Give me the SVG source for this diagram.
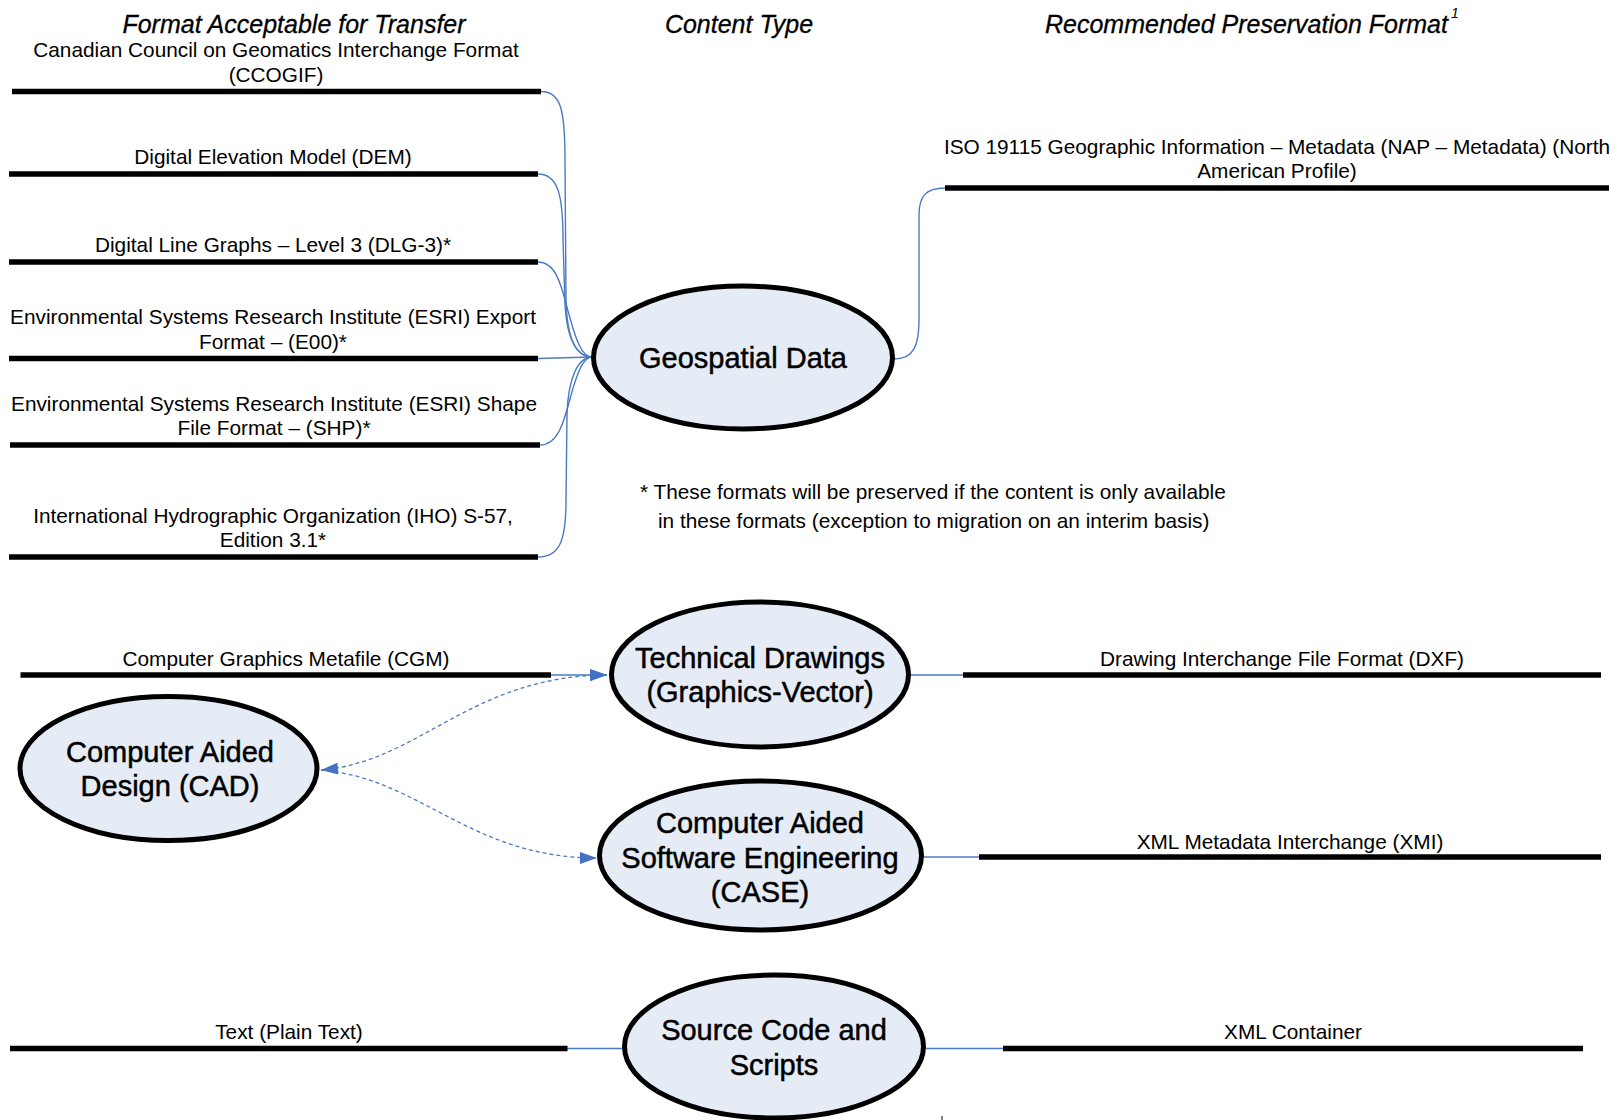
<svg xmlns="http://www.w3.org/2000/svg" width="1612" height="1120" viewBox="0 0 1612 1120">
  <style>
    text { font-family: "Liberation Sans", Arial, sans-serif; fill: #000; }
    .hdr { font-size: 25px; font-style: italic; stroke: #000; stroke-width: 0.3; }
    .sup { font-size: 14px; font-style: italic; }
    .lbl { font-size: 20.8px; text-anchor: middle; }
    .note { font-size: 20.8px; }
    .node-text { font-size: 29px; text-anchor: middle; stroke: #000; stroke-width: 0.5; }
    .bar { stroke: #000; stroke-width: 5.5; fill: none; }
    .oval { fill: #E6ECF6; stroke: #000; stroke-width: 5; }
    .link { stroke: #4A7BC2; stroke-width: 1.4; fill: none; }
    .dash { stroke: #4A7BC2; stroke-width: 1.3; fill: none; stroke-dasharray: 4 3; }
  </style>
  <defs>
    <marker id="arrow" viewBox="0 0 17 12" refX="17" refY="6" markerWidth="17" markerHeight="12" markerUnits="userSpaceOnUse" orient="auto-start-reverse">
      <path d="M0,0 L17,6 L0,12 Z" fill="#4472C4"/>
    </marker>
  </defs>

  <rect width="1612" height="1120" fill="#fff"/>

  <!-- column headings -->
  <g id="headings">
    <text class="hdr" x="294" y="33" text-anchor="middle">Format Acceptable for Transfer</text>
    <text class="hdr" x="739" y="33" text-anchor="middle">Content Type</text>
    <text class="hdr" x="1045" y="33">Recommended Preservation Format</text>
    <text class="sup" x="1451" y="18">1</text>
  </g>

  <!-- connectors -->
  <g id="connectors">
    <!-- transfer formats into Geospatial Data -->
    <path class="link" d="M541,91.5 C561,91.5 565,110 565,160 L566,300 C567,338 576,357 592,357"/>
    <path class="link" d="M538,174 C558,174 563,195 563,240 L565,305 C567,340 577,357 592,357"/>
    <path class="link" d="M538,262 C558,262 562,290 570,318 C576,340 582,357 592,357"/>
    <path class="link" d="M538,358.5 L592,357"/>
    <path class="link" d="M540,445 C562,445 566,410 574,385 C580,366 585,357 592,357"/>
    <path class="link" d="M538,557 C560,557 566,540 566,500 L567,415 C568,378 578,357 592,357"/>
    <!-- Geospatial Data to ISO 19115 -->
    <path class="link" d="M894,359 C914,359 919,345 919,320 L919,215 C919,196 926,188 945,188"/>
    <!-- Technical Drawings -->
    <path class="link" d="M551,675 L607,675" marker-end="url(#arrow)"/>
    <path class="link" d="M911,675 L963,675"/>
    <!-- CAD relations -->
    <path class="dash" d="M321,770 C420,762 470,676 607,675" marker-start="url(#arrow)" marker-end="url(#arrow)"/>
    <path class="dash" d="M321,770 C420,778 470,858 597,858" marker-end="url(#arrow)"/>
    <!-- CASE -->
    <path class="link" d="M924,857 L979,857"/>
    <!-- Source Code and Scripts -->
    <path class="link" d="M567,1048.5 L622,1048.5"/>
    <path class="link" d="M926,1048.5 L1003,1048.5"/>
  </g>

  <!-- transfer formats (left column) -->
  <g id="fmt-ccogif">
    <line class="bar" x1="12" y1="91.5" x2="541" y2="91.5"/>
    <text class="lbl" x="276" y="57">Canadian Council on Geomatics Interchange Format</text>
    <text class="lbl" x="276" y="81.5">(CCOGIF)</text>
  </g>
  <g id="fmt-dem">
    <line class="bar" x1="9" y1="174" x2="538" y2="174"/>
    <text class="lbl" x="273" y="164">Digital Elevation Model (DEM)</text>
  </g>
  <g id="fmt-dlg3">
    <line class="bar" x1="9" y1="262" x2="538" y2="262"/>
    <text class="lbl" x="273" y="252">Digital Line Graphs – Level 3 (DLG-3)*</text>
  </g>
  <g id="fmt-e00">
    <line class="bar" x1="9" y1="358.5" x2="538" y2="358.5"/>
    <text class="lbl" x="273" y="324">Environmental Systems Research Institute (ESRI) Export</text>
    <text class="lbl" x="273" y="349">Format – (E00)*</text>
  </g>
  <g id="fmt-shp">
    <line class="bar" x1="10" y1="445" x2="540" y2="445"/>
    <text class="lbl" x="274" y="410.5">Environmental Systems Research Institute (ESRI) Shape</text>
    <text class="lbl" x="274" y="435">File Format – (SHP)*</text>
  </g>
  <g id="fmt-iho">
    <line class="bar" x1="9" y1="557" x2="538" y2="557"/>
    <text class="lbl" x="273" y="522.5">International Hydrographic Organization (IHO) S-57,</text>
    <text class="lbl" x="273" y="547">Edition 3.1*</text>
  </g>

  <!-- preservation format for geospatial data -->
  <g id="fmt-iso19115">
    <line class="bar" x1="945" y1="188" x2="1609" y2="188"/>
    <text class="lbl" x="1277" y="153.5" font-size="20.4">ISO 19115 Geographic Information – Metadata (NAP – Metadata) (North</text>
    <text class="lbl" x="1277" y="178">American Profile)</text>
  </g>

  <g id="note">
    <text class="note" x="640" y="499">* These formats will be preserved if the content is only available</text>
    <text class="note" x="658" y="528">in these formats (exception to migration on an interim basis)</text>
  </g>

  <!-- content types -->
  <g id="node-geospatial">
    <ellipse class="oval" cx="743" cy="357.5" rx="149.5" ry="71.5"/>
    <text class="node-text" x="743" y="368">Geospatial Data</text>
  </g>
  <g id="node-technical">
    <ellipse class="oval" cx="760" cy="674.5" rx="148.5" ry="72.5"/>
    <text class="node-text" x="760" y="667.5">Technical Drawings</text>
    <text class="node-text" x="760" y="701.5">(Graphics-Vector)</text>
  </g>
  <g id="node-cad">
    <ellipse class="oval" cx="168.5" cy="768.5" rx="148.5" ry="72"/>
    <text class="node-text" x="170" y="762">Computer Aided</text>
    <text class="node-text" x="170" y="796">Design (CAD)</text>
  </g>
  <g id="node-case">
    <ellipse class="oval" cx="760.5" cy="855.5" rx="161" ry="74.5"/>
    <text class="node-text" x="760" y="833">Computer Aided</text>
    <text class="node-text" x="760" y="868">Software Engineering</text>
    <text class="node-text" x="760" y="902">(CASE)</text>
  </g>
  <g id="node-source">
    <ellipse class="oval" cx="774" cy="1046.5" rx="149.5" ry="71.5"/>
    <text class="node-text" x="774" y="1039.5">Source Code and</text>
    <text class="node-text" x="774" y="1074.5">Scripts</text>
  </g>

  <!-- formats for the other content types -->
  <g id="fmt-cgm">
    <line class="bar" x1="20.5" y1="675" x2="551" y2="675"/>
    <text class="lbl" x="286" y="665.5">Computer Graphics Metafile (CGM)</text>
  </g>
  <g id="fmt-dxf">
    <line class="bar" x1="963" y1="675" x2="1601" y2="675"/>
    <text class="lbl" x="1282" y="665.5">Drawing Interchange File Format (DXF)</text>
  </g>
  <g id="fmt-xmi">
    <line class="bar" x1="979" y1="857" x2="1601" y2="857"/>
    <text class="lbl" x="1290" y="848.5">XML Metadata Interchange (XMI)</text>
  </g>
  <g id="fmt-text">
    <line class="bar" x1="10" y1="1048.5" x2="567.5" y2="1048.5"/>
    <text class="lbl" x="289" y="1038.5">Text (Plain Text)</text>
  </g>
  <g id="fmt-xml-container">
    <line class="bar" x1="1003" y1="1048.5" x2="1583" y2="1048.5"/>
    <text class="lbl" x="1293" y="1038.5">XML Container</text>
  </g>

  <line x1="942" y1="1116" x2="942" y2="1120" stroke="#000" stroke-width="1"/>
</svg>
